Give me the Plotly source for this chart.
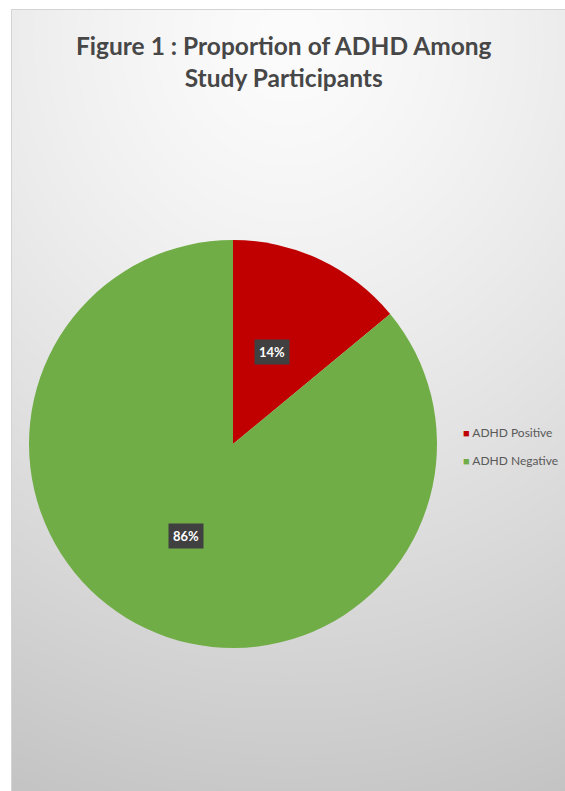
import base64, struct, zlib
import numpy as np
import plotly.graph_objects as go

# ---- data ----
labels = ["ADHD Positive", "ADHD Negative"]
values = [14, 86]
colors = ["#c00000", "#70ad47"]
title_text = "Figure 1 : Proportion of ADHD Among<br>Study Participants"

W, H = 565, 791

# ---- background image (radial gray gradient with frame) ----
def make_bg():
    yy, xx = np.mgrid[0:H, 0:W].astype(float)
    cx, cy = 288.0, 40.0
    rx, ry = 700.0, 760.0
    t = np.sqrt(((xx - cx) / rx) ** 2 + ((yy - cy) / ry) ** 2)
    g = 252 - 52 * t ** 1.3
    g = np.clip(g, 0, 255)
    img = np.repeat(g[:, :, None], 3, axis=2)
    fx, fy = 11, 9
    img[:, :fx] = 255
    img[:fy, :] = 255
    img[fy:, fx] = 212
    img[fy, fx:] = 212
    img = img.astype(np.uint8)
    raw = b"".join(b"\x00" + img[r].tobytes() for r in range(H))
    def chunk(tag, data):
        c = struct.pack(">I", len(data)) + tag + data
        return c + struct.pack(">I", zlib.crc32(tag + data) & 0xFFFFFFFF)
    png = b"\x89PNG\r\n\x1a\n"
    png += chunk(b"IHDR", struct.pack(">IIBBBBB", W, H, 8, 2, 0, 0, 0))
    png += chunk(b"IDAT", zlib.compress(raw, 9))
    png += chunk(b"IEND", b"")
    return "data:image/png;base64," + base64.b64encode(png).decode()

# pie geometry (pixels)
pcx, pcy, R = 233.0, 444.0, 204.0
dom_x = [(pcx - R) / W, (pcx + R) / W]
dom_y = [1 - (pcy + R) / H, 1 - (pcy - R) / H]

fig = go.Figure(go.Pie(
    labels=labels, values=values, sort=False, direction="clockwise",
    rotation=0, marker=dict(colors=colors, line=dict(width=0)),
    textinfo="none", hoverinfo="label+percent", showlegend=False,
    domain=dict(x=dom_x, y=dom_y),
))

font_family = "Lato, Carlito, 'Open Sans', sans-serif"
annotations = []
total = float(sum(values))
cum = 0.0
for lab, v in zip(labels, values):
    mid = (cum + v / 2) / total * 2 * np.pi
    cum += v
    r = 0.5 * R
    px = pcx + r * np.sin(mid) - 4
    py = pcy - r * np.cos(mid)
    annotations.append(dict(
        x=px / W, y=1 - py / H, xref="paper", yref="paper",
        xanchor="center", yanchor="middle",
        text="<b>%d%%</b>" % round(v / total * 100), showarrow=False,
        font=dict(color="white", size=13, family=font_family),
        bgcolor="#404040", borderpad=4,
    ))

# legend as annotations
leg_x, leg_y0, leg_dy = 461, 432, 28
for i, (lab, c) in enumerate(zip(labels, colors)):
    annotations.append(dict(
        x=leg_x / W, y=1 - (leg_y0 + i * leg_dy) / H, xref="paper", yref="paper",
        xanchor="left", yanchor="middle", showarrow=False,
        text="<span style='color:%s;font-size:11px'>■</span> %s" % (c, lab),
        font=dict(color="#595959", size=12, family=font_family),
    ))

# title
annotations.append(dict(
    x=284 / W, y=1 - 62 / H, xref="paper", yref="paper",
    xanchor="center", yanchor="middle", showarrow=False,
    text="<b>" + title_text + "</b>",
    font=dict(size=24.5, color="#474747", family=font_family),
))

fig.update_layout(
    width=W, height=H,
    margin=dict(l=0, r=0, t=0, b=0),
    paper_bgcolor="white", plot_bgcolor="rgba(0,0,0,0)",
    annotations=annotations,
    images=[dict(source=make_bg(), xref="paper", yref="paper", x=0, y=1,
                 sizex=1, sizey=1, xanchor="left", yanchor="top",
                 sizing="stretch", layer="below")],
)

fig.write_html("out.html")
